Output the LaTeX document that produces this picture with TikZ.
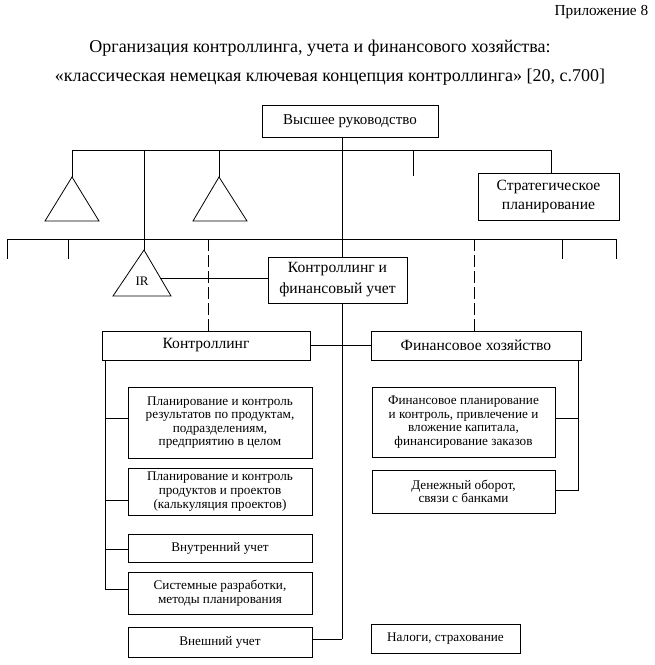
\documentclass[tikz,border=0pt]{standalone}
\usepackage{fontspec}
\setmainfont{Liberation Serif}
\usetikzlibrary{calc}
\begin{document}
\begin{tikzpicture}[x=1pt,y=-1pt,line width=0.8pt,
  box/.style={draw,inner sep=0pt,align=center},
  big/.style={font=\fontsize{15.6}{21}\selectfont},
  small/.style={font=\fontsize{13.2}{13.6}\selectfont},
  dsh/.style={dash pattern=on 12pt off 4pt}]
\useasboundingbox (0,0) rectangle (655,665);
% header
\node[anchor=east,font=\fontsize{15.3}{18}\selectfont] (app) at (652,12) {Приложение 8};
\node[font=\fontsize{18}{21}\selectfont] (ttl1) at (320,48) {Организация контроллинга, учета и финансового хозяйства:};
\node[font=\fontsize{18}{21}\selectfont] (ttl2) at (330,77) {«классическая немецкая ключевая концепция контроллинга» [20, с.700]};
% boxes
\node[box,font=\fontsize{15}{18}\selectfont,minimum width=176,minimum height=32] (top) at (350,121) {Высшее руководство};
\node[box,big,minimum width=141,minimum height=47] (strat) at (548.5,196.5) {Стратегическое\\[-2pt]планирование};
\node[box,big,minimum width=139,minimum height=46] (kfu) at (337.5,280) {Контроллинг и\\финансовый учет};
\node[box,big,minimum width=208,minimum height=29] (kontr) at (206,345.5) {Контроллинг};
\node[box,big,minimum width=210,minimum height=29] (fin) at (476,345.5) {Финансовое хозяйство};
\node[box,small,minimum width=184,minimum height=71] (b1) at (220,422.5) {Планирование и контроль\\результатов по продуктам,\\подразделениям,\\предприятию в целом};
\node[box,small,minimum width=184,minimum height=47] (b2) at (220,491.5) {Планирование и контроль\\продуктов и проектов\\(калькуляция проектов)};
\node[box,small,minimum width=184,minimum height=28] (b3) at (220,548) {Внутренний учет};
\node[box,small,minimum width=184,minimum height=42] (b4) at (220,593) {Системные разработки,\\методы планирования};
\node[box,small,minimum width=184,minimum height=30] (b5) at (220,642) {Внешний учет};
\node[box,small,minimum width=183,minimum height=70] (f1) at (463.5,422) {Финансовое планирование\\и контроль, привлечение и\\вложение капитала,\\финансирование заказов};
\node[box,small,minimum width=183,minimum height=43] (f2) at (463.5,491.5) {Денежный оборот,\\связи с банками};
\node[box,small,minimum width=149,minimum height=29] (nal) at (445.5,638.5) {Налоги, страхование};
% triangles
\coordinate (tra) at (72,177);
\coordinate (trb) at (219,177);
\coordinate (ira) at (144,250);
\draw (tra) -- ++(-27,44) -- ++(54,0) -- cycle;
\draw (trb) -- ++(-26,44) -- ++(54,0) -- cycle;
\draw (ira) -- ++(-31,46) -- ++(58,0) -- cycle;
\node[font=\fontsize{13}{15}\selectfont] (irl) at (142,281) {IR};
% top bus
\coordinate (uL) at (72,150);
\coordinate (uR) at (551,150);
\coordinate (u2) at (144,150);
\coordinate (u3) at (219,150);
\coordinate (u4) at (413,150);
\draw (tra) -- (uL) -- (uR) -- (uR |- strat.north);
\draw (u2) -- (ira);
\draw (u3) -- (trb);
\draw (u4) -- ++(0,26);
% main vertical
\coordinate (mT) at (342,137);
\coordinate (mB) at (342,639);
\draw (mT) -- (mT |- kfu.north);
\draw (mT |- kfu.south) -- (mB);
% second bus
\coordinate (sL) at (7,239);
\coordinate (sR) at (616,239);
\coordinate (s2) at (68,239);
\coordinate (s3) at (562,239);
\draw (sL) ++(0,20) -- (sL) -- (sR) -- ++(0,20);
\draw (s2) -- ++(0,20);
\draw (s3) -- ++(0,20);
\coordinate (dk) at (208,239);
\coordinate (df) at (474,239);
\draw[dsh] (dk) -- (dk |- kontr.north);
\draw[dsh] (df) -- (df |- fin.north);
% IR link
\coordinate (irR) at (160.4,278);
\draw (irR) -- (irR -| kfu.west);
% kontr - fin
\draw (kontr.east) -- (fin.west);
% left bus
\coordinate (lT) at (105,360);
\coordinate (lB) at (105,589);
\coordinate (l1) at (105,418);
\coordinate (l2) at (105,500);
\coordinate (l3) at (105,549);
\draw (lT) -- (lB) -- (lB -| b4.west);
\draw (l1) -- (l1 -| b1.west);
\draw (l2) -- (l2 -| b2.west);
\draw (l3) -- (l3 -| b3.west);
% right bus
\coordinate (rT) at (578,360);
\coordinate (rB) at (578,490);
\coordinate (r1) at (578,418);
\draw (rT) -- (rB) -- (rB -| f2.east);
\draw (r1) -- (r1 -| f1.east);
% external accounting
\draw (mB -| b5.east) -- (mB);
\end{tikzpicture}
\end{document}
